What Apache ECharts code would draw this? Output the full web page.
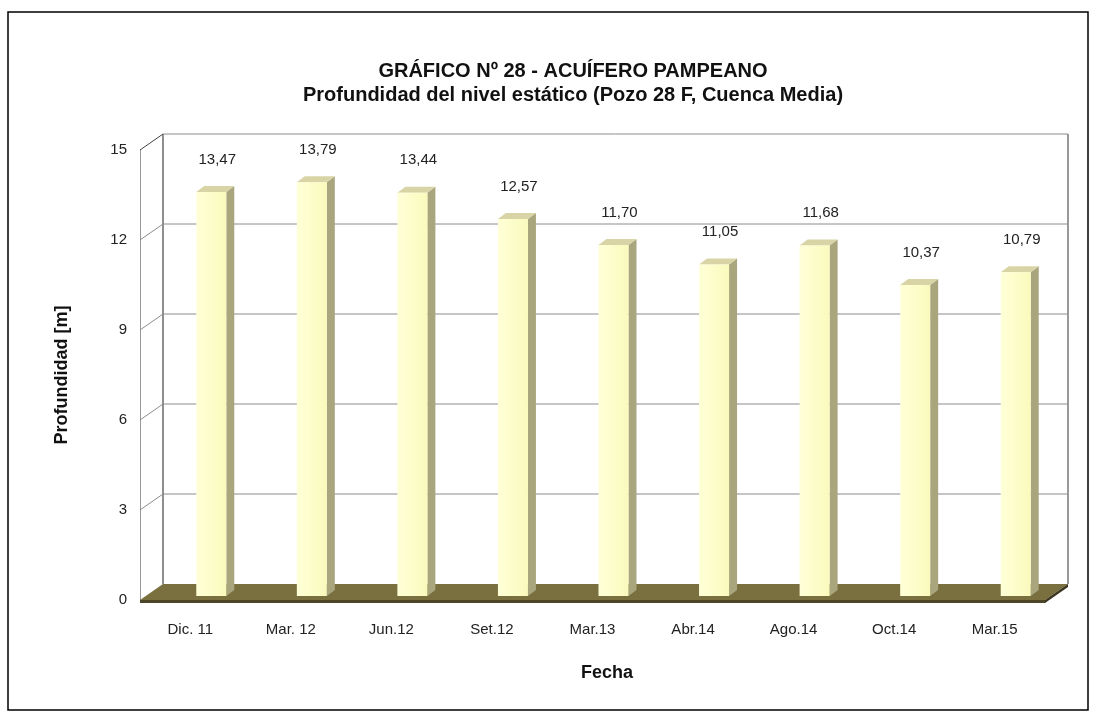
<!DOCTYPE html>
<html>
<head>
<meta charset="utf-8">
<script src="https://cdn.jsdelivr.net/npm/echarts@6/dist/echarts.min.js"></script>
<style>
  html, body { margin: 0; padding: 0; background: #fff; }
  #chart { width: 1101px; height: 723px; }
</style>
</head>
<body>
<div id="chart"></div>
<script>
// fechas de medición
var categorias = ['Dic. 11', 'Mar. 12', 'Jun.12', 'Set.12', 'Mar.13', 'Abr.14', 'Ago.14', 'Oct.14', 'Mar.15'];
// profundidad del nivel estático [m]
var profundidad = [13.47, 13.79, 13.44, 12.57, 11.70, 11.05, 11.68, 10.37, 10.79];
// marcas del eje vertical
var marcasY = [0, 3, 6, 9, 12, 15];

var FUENTE = '"Liberation Sans", Arial, sans-serif';
var PX = 23, PY = -16; // desplazamiento de la pared del fondo (efecto 3D)

// paredes, piso y líneas de división
function renderParedes(params, api) {
  var cs = params.coordSys;
  var y = api.coord([0, api.value(1)])[1];
  var x0 = cs.x, x1 = cs.x + cs.width;
  var hijos;
  if (params.dataIndex === 0) {
    hijos = [
      { type: 'polygon', shape: { points: [[x0, y], [x0 + PX, y + PY], [x1 + PX, y + PY], [x1, y]] }, style: { fill: '#7a6f3e' } },
      { type: 'polygon', shape: { points: [[x0, y], [x1, y], [x1, y + 3], [x0, y + 3]] }, style: { fill: '#4d4527' } },
      { type: 'polygon', shape: { points: [[x1, y], [x1 + PX, y + PY], [x1 + PX, y + PY + 3], [x1, y + 3]] }, style: { fill: '#3b3520' } },
      { type: 'line', shape: { x1: x0 + PX, y1: cs.y + PY, x2: x0 + PX, y2: y + PY }, style: { stroke: '#444', lineWidth: 1.2 } },
      { type: 'line', shape: { x1: x1 + PX, y1: cs.y + PY, x2: x1 + PX, y2: y + PY }, style: { stroke: '#555', lineWidth: 1.2 } }
    ];
  } else {
    var top = api.value(1) === marcasY[marcasY.length - 1];
    hijos = [
      { type: 'line', shape: { x1: x0, y1: y, x2: x0 + PX, y2: y + PY }, style: { stroke: top ? '#444' : '#8c8c8c', lineWidth: 1 } },
      { type: 'line', shape: { x1: x0 + PX, y1: y + PY, x2: x1 + PX, y2: y + PY }, style: { stroke: '#8c8c8c', lineWidth: 1 } }
    ];
  }
  return { type: 'group', children: hijos };
}

// barras con caras laterales
function renderBarras(params, api) {
  var base = api.coord([api.value(0), 0]);
  var tope = api.coord([api.value(0), api.value(1)]);
  var ancho = 30, fx = 8, fy = -6;
  var xl = base[0] + 21 - ancho / 2, xr = xl + ancho;
  var yb = base[1] - 4, yt = tope[1] - 4;
  var texto = api.value(1).toFixed(2).replace('.', ',');
  return {
    type: 'group',
    children: [
      { type: 'polygon', shape: { points: [[xr, yb], [xr + fx, yb + fy], [xr + fx, yt + fy], [xr, yt]] }, style: { fill: '#a9a67e' } },
      { type: 'polygon', shape: { points: [[xl, yt], [xl + fx, yt + fy], [xr + fx, yt + fy], [xr, yt]] }, style: { fill: '#d8d4a6' } },
      {
        type: 'rect', shape: { x: xl, y: yt, width: ancho, height: yb - yt },
        style: {
          fill: new echarts.graphic.LinearGradient(0, 0, 1, 0, [
            { offset: 0, color: '#ffffd8' }, { offset: 1, color: '#fafabd' }
          ])
        }
      },
      {
        type: 'text',
        style: {
          text: texto, x: (xl + xr) / 2 + 6, y: yt - 25,
          align: 'center', verticalAlign: 'bottom',
          font: '15px ' + FUENTE, fill: '#222'
        }
      }
    ]
  };
}

var chart = echarts.init(document.getElementById('chart'));
var option = {
  animation: false,
  backgroundColor: '#fff',
  title: {
    text: 'GRÁFICO Nº 28 - ACUÍFERO PAMPEANO\nProfundidad del nivel estático (Pozo 28 F, Cuenca Media)',
    left: 568, top: 54, textAlign: 'center',
    textStyle: { fontFamily: FUENTE, fontSize: 20, fontWeight: 'bold', color: '#111', lineHeight: 24 }
  },
  graphic: [
    { type: 'rect', shape: { x: 8, y: 12, width: 1080, height: 698 }, style: { fill: 'none', stroke: '#000', lineWidth: 1.5 }, z: -1 },
    { type: 'text', style: { text: 'Fecha', x: 607, y: 673, align: 'center', verticalAlign: 'middle', font: 'bold 18px ' + FUENTE, fill: '#111' } }
  ],
  grid: { left: 140, right: 56, top: 150, bottom: 123, containLabel: false },
  xAxis: {
    type: 'category',
    data: categorias,
    axisLine: { show: false },
    axisTick: { show: true, length: 3, lineStyle: { color: '#bbb' } },
    axisLabel: { margin: 22, fontFamily: FUENTE, fontSize: 15, color: '#222' }
  },
  yAxis: {
    type: 'value',
    min: 0, max: 15, interval: 3,
    name: 'Profundidad [m]',
    nameLocation: 'middle',
    nameGap: 69,
    nameTextStyle: { fontFamily: FUENTE, fontSize: 18, fontWeight: 'bold', color: '#111' },
    axisLine: { show: true, lineStyle: { color: '#999' } },
    axisTick: { show: false },
    splitLine: { show: false },
    axisLabel: { margin: 13, fontFamily: FUENTE, fontSize: 15, color: '#222' }
  },
  series: [
    {
      type: 'custom',
      name: 'paredes',
      renderItem: renderParedes,
      data: marcasY.map(function (v) { return [0, v]; }),
      encode: { x: 0, y: 1 },
      clip: false,
      silent: true,
      z: 1
    },
    {
      type: 'custom',
      name: 'Profundidad',
      renderItem: renderBarras,
      data: profundidad.map(function (v, i) { return [i, v]; }),
      encode: { x: 0, y: 1 },
      clip: false,
      z: 2
    }
  ]
};
chart.setOption(option);
</script>
</body>
</html>
